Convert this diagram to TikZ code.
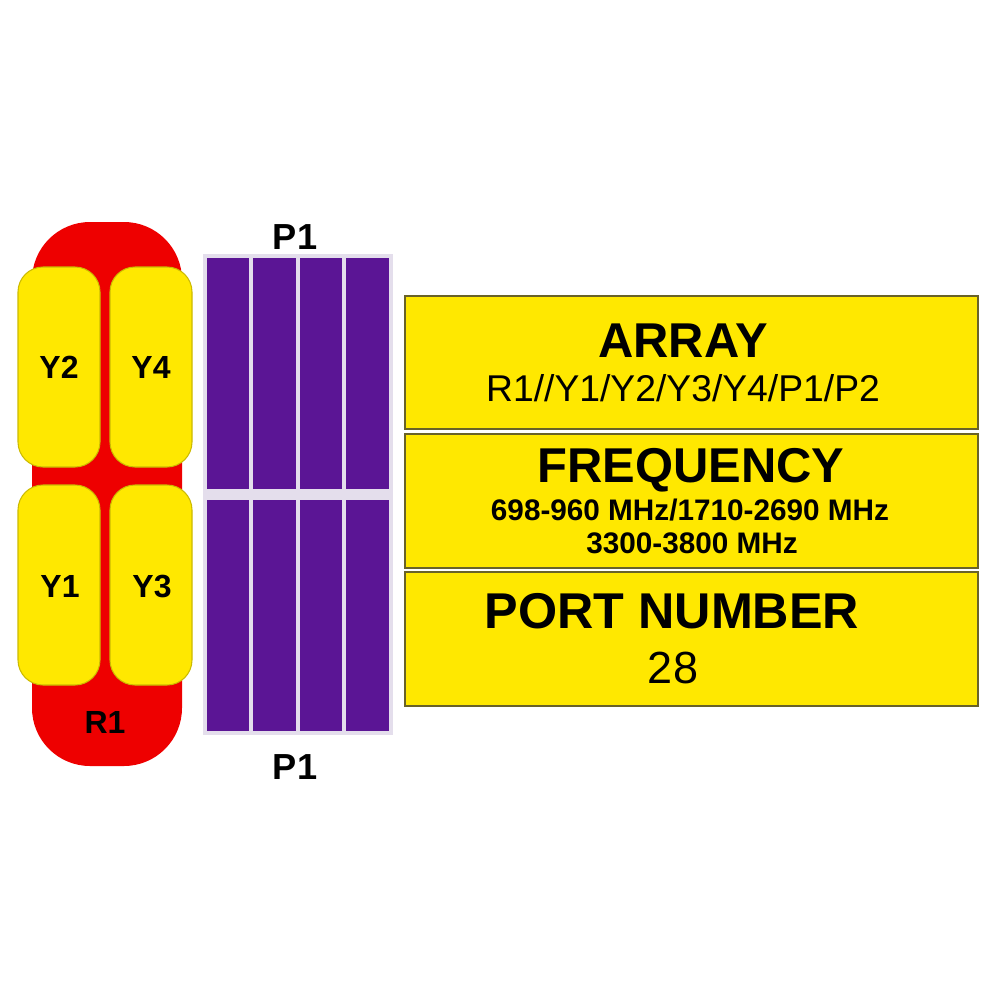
\documentclass[tikz,border=0pt]{standalone}
\usepackage{fontspec}
\setmainfont{Liberation Sans}
\usepackage{tikz}
\definecolor{bodyred}{RGB}{238,0,0}
\definecolor{patchyellow}{RGB}{255,232,0}
\definecolor{barpurple}{RGB}{91,21,149}
\definecolor{bargap}{RGB}{228,222,236}
\definecolor{edgeolive}{RGB}{105,98,40}
\def\fs#1{\fontsize{#1}{#1}\selectfont}
\tikzset{
	patch/.style={fill=patchyellow, draw=patchyellow!80!black, line width=0.3pt, rounded corners=0.25cm},
	bar/.style={fill=barpurple, draw=none},
	infobox/.style={fill=patchyellow, draw=edgeolive, line width=0.6pt},
	lbl/.style={anchor=base, inner sep=0pt, font=\bfseries\fs{9.1pt}},
	plbl/.style={anchor=base, inner sep=0pt, font=\bfseries\fs{10.3pt}},
	headline/.style={anchor=base, inner sep=0pt, font=\bfseries\fs{13.9pt}},
	subline/.style={anchor=base, inner sep=0pt, font=\fs{10.6pt}},
	freqline/.style={anchor=base, inner sep=0pt, font=\bfseries\fs{8.45pt}}
}

\begin{document}
\begin{tikzpicture}[x=0.01cm, y=-0.01cm]
		%%%%% START %%%%%
		\useasboundingbox (0, 0) rectangle (1000, 1000);
		
		\draw[fill=bodyred, draw=none, rounded corners=0.58cm] (32, 222) rectangle (182, 766);
		
		\draw[patch] (18, 267) rectangle (100, 467);
		\draw[patch] (110, 267) rectangle (192, 467);
		\draw[patch] (18, 485) rectangle (100, 685);
		\draw[patch] (110, 485) rectangle (192, 685);
		
		\node[lbl] (y2) at (59, 378) {Y2};
		\node[lbl] (y4) at (151, 378) {Y4};
		\node[lbl] (y1) at (60, 597) {Y1};
		\node[lbl] (y3) at (152, 597) {Y3};
		\node[lbl] (r1) at (105, 733) {R1};
		
		\draw[fill=bargap, draw=none] (203, 254) rectangle (393, 735);
		\draw[bar] (207, 258) rectangle (249, 489);
		\draw[bar] (253, 258) rectangle (296, 489);
		\draw[bar] (300, 258) rectangle (342, 489);
		\draw[bar] (346, 258) rectangle (389, 489);
		\draw[bar] (207, 500) rectangle (249, 731);
		\draw[bar] (253, 500) rectangle (296, 731);
		\draw[bar] (300, 500) rectangle (342, 731);
		\draw[bar] (346, 500) rectangle (389, 731);
		
		\node[plbl] (ptop) at (295, 249) {P1};
		\node[plbl] (pbot) at (295, 779) {P1};
		
		\draw[infobox] (405, 296) rectangle (978, 429);
		\draw[infobox] (405, 434) rectangle (978, 568);
		\draw[infobox] (405, 572) rectangle (978, 706);
		
		\node[headline] (arrayhd) at (683, 357) {ARRAY};
		\node[subline] (arraylist) at (683, 401) {R1//Y1/Y2/Y3/Y4/P1/P2};
		
		\node[headline] (freqhd) at (691, 482) {FREQUENCY};
		\node[freqline] (freqlow) at (690, 520) {698-960 MHz/1710-2690 MHz};
		\node[freqline] (freqhigh) at (692, 553) {3300-3800 MHz};
		
		\node[headline, font=\bfseries\fs{14.3pt}] (porthd) at (672, 628) {PORT NUMBER};
		\node[anchor=base, inner sep=0pt, font=\fs{12.8pt}] (portnum) at (673, 683) {28};
		
		%%%%% END %%%%%
\end{tikzpicture}
\end{document}
